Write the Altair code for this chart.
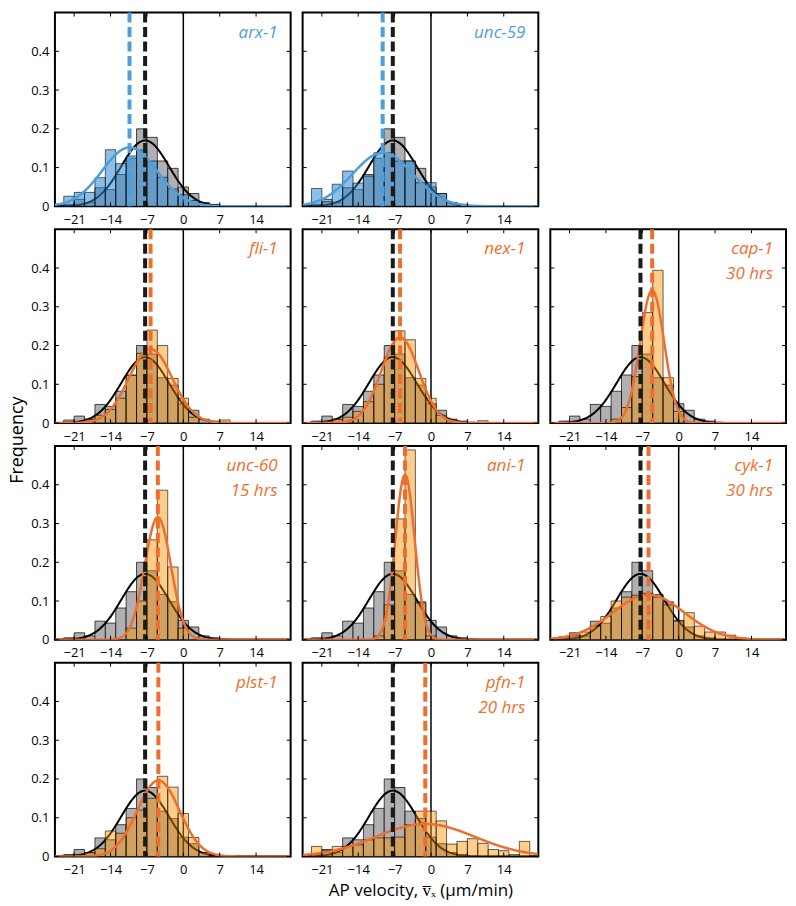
import altair as alt
import pandas as pd

FONT = "Open Sans"

# ---------------- data ----------------
BIN_CENTERS = [-22, -20, -18, -16, -14, -12, -10, -8, -6, -4, -2, 0, 2, 4, 6, 8, 10, 12, 14, 16, 18]
BIN_WIDTH = 2
X_DOMAIN = [-24.7, 20.65]
Y_DOMAIN = [0, 0.5]
X_TICKS = [-21, -14, -7, 0, 7, 14]
Y_TICKS = [0, 0.1, 0.2, 0.3, 0.4]

CONTROL_FREQ = [0.005, 0.018, 0.010, 0.048, 0.043, 0.082, 0.124, 0.200, 0.178, 0.117, 0.098,
                0.050, 0.033, 0.010, 0.005, 0, 0, 0, 0, 0, 0]
CONTROL_MEAN = -7.35
CONTROL_SD = 4.6
CONTROL_PEAK = 0.17

ARX1 = [0.026, 0.036, 0.036, 0.074, 0.146, 0.110, 0.130, 0.145, 0.117, 0.075, 0.045,
        0.030, 0.015, 0, 0, 0, 0, 0, 0, 0, 0]
UNC59 = [0.046, 0.012, 0.057, 0.091, 0.060, 0.078, 0.138, 0.138, 0.117, 0.117, 0.061,
         0.061, 0.033, 0.010, 0, 0, 0, 0, 0, 0, 0]
FLI1 = [0.008, 0.0, 0.010, 0.020, 0.035, 0.064, 0.123, 0.180, 0.240, 0.200, 0.115,
        0.064, 0.015, 0.0, 0.0, 0.008, 0, 0, 0, 0, 0]
NEX1 = [0.0, 0.005, 0.010, 0.015, 0.030, 0.055, 0.100, 0.170, 0.238, 0.215, 0.115,
        0.064, 0.020, 0.008, 0.0, 0.0, 0.006, 0, 0, 0, 0]
CAP1 = [0, 0, 0, 0, 0, 0.010, 0.040, 0.120, 0.285, 0.394, 0.117,
        0.030, 0, 0, 0, 0, 0, 0, 0, 0, 0]
UNC60 = [0, 0, 0, 0, 0, 0.0, 0.030, 0.100, 0.258, 0.386, 0.188,
         0.030, 0, 0, 0, 0, 0, 0, 0, 0, 0]
ANI1 = [0, 0, 0, 0, 0, 0, 0.010, 0.090, 0.312, 0.490, 0.095,
        0.010, 0, 0, 0, 0, 0, 0, 0, 0, 0]
CYK1 = [0.008, 0.010, 0.020, 0.035, 0.060, 0.100, 0.110, 0.115, 0.120, 0.110, 0.090,
        0.048, 0.070, 0.035, 0.020, 0.020, 0.012, 0.005, 0, 0, 0]
PLST1 = [0, 0.005, 0.010, 0.020, 0.066, 0.060, 0.100, 0.120, 0.150, 0.207, 0.179,
         0.111, 0.049, 0.010, 0, 0, 0, 0, 0, 0, 0]
PFN1 = [0.026, 0.015, 0.026, 0.026, 0.030, 0.043, 0.048, 0.048, 0.050, 0.082, 0.117,
        0.117, 0.092, 0.032, 0.039, 0.046, 0.034, 0.018, 0.015, 0.005, 0.039]

LABELS = ["arx-1", "unc-59", "fli-1", "nex-1", "cap-1\n30 hrs",
          "unc-60\n15 hrs", "ani-1", "cyk-1\n30 hrs", "plst-1", "pfn-1\n20 hrs"]
GROUPS = ["blue", "blue", "orange", "orange", "orange",
          "orange", "orange", "orange", "orange", "orange"]
MEANS = [-10.35, -9.3, -6.3, -5.95, -5.1, -4.9, -5.0, -5.8, -4.8, -1.1]
SDS = [5.25, 5.78, 4.18, 3.61, 2.33, 2.52, 1.87, 6.88, 4.07, 9.5]
PEAKS = [0.152, 0.138, 0.191, 0.221, 0.342, 0.316, 0.426, 0.116, 0.196, 0.084]
FREQS = [ARX1, UNC59, FLI1, NEX1, CAP1, UNC60, ANI1, CYK1, PLST1, PFN1]
# grid cells, row-major, 3 columns; None = empty cell
GRID = [0, 1, None, 2, 3, 4, 5, 6, 7, 8, 9]
FIRST_COL = [0, 2, 5, 8]
X_TITLE_PANEL = 9
X_TITLE = "AP velocity, v\u0305\u2093 (\u03bcm/min)"

LINE_COLORS = {"blue": "#4E9FD9", "orange": "#EE6F2D"}
FILL_COLORS = {"blue": "#2E8AD6", "orange": "#FB9000"}
FILL_OPACITY = {"blue": 0.55, "orange": 0.45}
GRAY_FILL = "#B0B0B2"

W, H = 236, 194


def hist_df(freqs):
    return pd.DataFrame({"c": BIN_CENTERS, "f": freqs})


def panel(i):
    first_col = i in FIRST_COL
    g = GROUPS[i]
    lc = LINE_COLORS[g]
    xs = alt.Scale(domain=X_DOMAIN, nice=False, zero=False)
    ys = alt.Scale(domain=Y_DOMAIN, nice=False, zero=False)

    xaxis_kw = dict(values=X_TICKS, format="d", tickSize=0, domain=False, grid=False,
                    labelPadding=7, labelFontSize=13, labelFont=FONT, labelColor="black",
                    labelFlush=False)
    if i == X_TITLE_PANEL:
        xaxis_kw.update(title=X_TITLE, titleFontSize=17, titleFont=FONT,
                        titleFontWeight="normal", titlePadding=6, titleColor="black")
    else:
        xaxis_kw.update(title=None)
    yaxis_kw = dict(values=Y_TICKS, format="~g", tickSize=0, domain=False, grid=False,
                    labelPadding=6, labelFontSize=13, labelFont=FONT, labelColor="black",
                    labels=first_col, title=None, labelFlush=False)
    xax = alt.Axis(**xaxis_kw)
    yax = alt.Axis(**yaxis_kw)

    def X(field):
        return alt.X(field, scale=xs, axis=xax)

    def Y(field):
        return alt.Y(field, scale=ys, axis=yax)

    def curve(peak, mu, sd, color, width):
        return (
            alt.Chart(alt.sequence(X_DOMAIN[0], X_DOMAIN[1] + 0.05, 0.1, as_="v"))
            .transform_calculate(f=f"{peak} * exp(-0.5 * pow((datum.v - ({mu})) / {sd}, 2))")
            .mark_line(color=color, strokeWidth=width, clip=True)
            .encode(x=X("v:Q"), y=Y("f:Q"))
        )

    gray = (
        alt.Chart(hist_df(CONTROL_FREQ))
        .transform_calculate(x0=f"datum.c - {BIN_WIDTH / 2}", x1=f"datum.c + {BIN_WIDTH / 2}")
        .mark_rect(fill=GRAY_FILL, stroke="black", strokeWidth=0.7, clip=True)
        .encode(x=X("x0:Q"), x2="x1:Q", y=Y("f:Q"), y2=alt.datum(0))
    )
    zero_line = alt.Chart().mark_rule(color="black", strokeWidth=1.5).encode(x=alt.datum(0))
    black_curve = curve(CONTROL_PEAK, CONTROL_MEAN, CONTROL_SD, "black", 2)
    mutant = (
        alt.Chart(hist_df(FREQS[i]))
        .transform_filter("datum.f > 0")
        .transform_calculate(x0=f"datum.c - {BIN_WIDTH / 2}", x1=f"datum.c + {BIN_WIDTH / 2}")
        .mark_rect(fill=FILL_COLORS[g], fillOpacity=FILL_OPACITY[g], stroke="black",
                   strokeWidth=0.7, strokeOpacity=0.85, clip=True)
        .encode(x=X("x0:Q"), x2="x1:Q", y=Y("f:Q"), y2=alt.datum(0))
    )
    mutant_curve = curve(PEAKS[i], MEANS[i], SDS[i], lc, 2.5)
    dash_black = (
        alt.Chart(pd.DataFrame({"m": [CONTROL_MEAN]}))
        .mark_rule(color="#1a1a1a", strokeWidth=4, strokeDash=[10, 4.5])
        .encode(x=X("m:Q"))
    )
    dash_color = (
        alt.Chart(pd.DataFrame({"m": [MEANS[i]]}))
        .mark_rule(color=lc, strokeWidth=4, strokeDash=[10, 4.5])
        .encode(x=X("m:Q"))
    )
    xt = pd.DataFrame({"t": X_TICKS})
    yt = pd.DataFrame({"t": Y_TICKS})
    xtick_top = alt.Chart(xt).mark_rule(color="black", strokeWidth=1).encode(
        x=X("t:Q"), y=alt.value(0), y2=alt.value(4))
    xtick_bot = alt.Chart(xt).mark_rule(color="black", strokeWidth=1).encode(
        x=X("t:Q"), y=alt.value(H - 4), y2=alt.value(H))
    ytick_l = alt.Chart(yt).mark_rule(color="black", strokeWidth=1).encode(
        y=Y("t:Q"), x=alt.value(0), x2=alt.value(4))
    ytick_r = alt.Chart(yt).mark_rule(color="black", strokeWidth=1).encode(
        y=Y("t:Q"), x=alt.value(W - 4), x2=alt.value(W))
    label = (
        alt.Chart(pd.DataFrame({"lab": [LABELS[i]]}))
        .mark_text(align="right", baseline="alphabetic", font=FONT, fontStyle="italic",
                   fontSize=17, color=lc, lineBreak="\n", lineHeight=25)
        .encode(x=alt.value(W - 13), y=alt.value(25), text="lab:N")
    )
    return alt.layer(
        gray, zero_line, black_curve, mutant, mutant_curve, dash_black, dash_color,
        xtick_top, xtick_bot, ytick_l, ytick_r, label
    ).properties(width=W, height=H)


def empty_cell():
    return (
        alt.Chart(pd.DataFrame({"a": [0]}))
        .mark_point(opacity=0)
        .encode(x=alt.value(0), y=alt.value(0))
        .properties(width=W, height=H, view=alt.ViewBackground(stroke="transparent"))
    )


cells = [empty_cell() if i is None else panel(i) for i in GRID]

chart = (
    alt.concat(*cells, columns=3, spacing={"row": 23, "column": 12}, bounds="flush")
    .properties(
        padding=0,
        title=alt.TitleParams("Frequency", orient="left", anchor="middle", fontSize=18,
                              font=FONT, fontWeight="normal", color="black", offset=3,
                              dx=14),
    )
    .configure_view(stroke="black", strokeWidth=2)
)

chart.save("out.html", embed_options={"renderer": "svg", "actions": False})
